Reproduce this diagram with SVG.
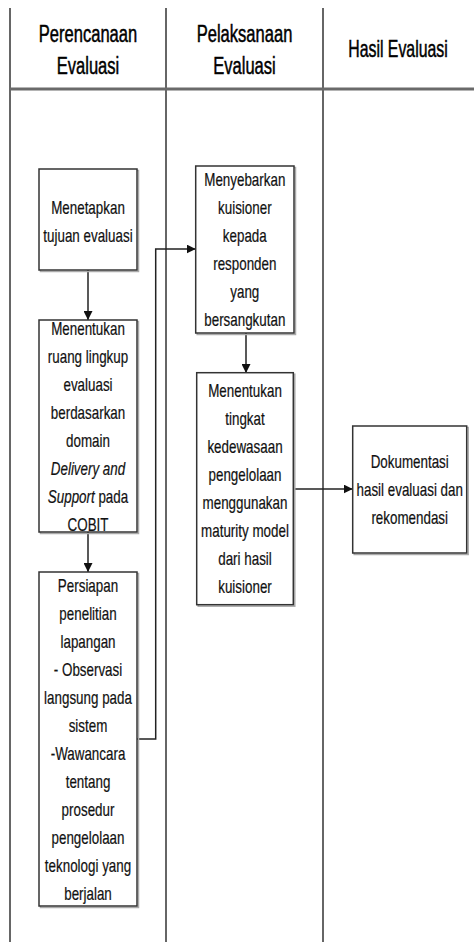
<svg xmlns="http://www.w3.org/2000/svg" width="474" height="942" viewBox="0 0 474 942">
<style>
.lane{stroke:#333;stroke-width:1.5;fill:none}
.sep{stroke:#6a6a6a;stroke-width:3;fill:none}
.box{fill:#fff;stroke:#333;stroke-width:1.5}
.shadow{fill:none;stroke:#aaa;stroke-width:1.5}
.hdr{font-family:"Liberation Sans",Arial,sans-serif;font-size:24px;fill:#000;stroke:#000;stroke-width:0.5;text-anchor:middle}
.t{font-family:"Liberation Sans",Arial,sans-serif;font-size:17.5px;fill:#111;stroke:#111;stroke-width:0.2;text-anchor:middle}
.conn{stroke:#222;stroke-width:1.5;fill:none}
</style>
<defs>
<marker id="arr" markerUnits="userSpaceOnUse" markerWidth="9" markerHeight="9" viewBox="0 0 10 10" refX="10" refY="5" orient="auto">
<path d="M0,0 L10,5 L0,10 z" fill="#111"/>
</marker>
</defs>
<rect width="474" height="942" fill="#fff"/>
<g id="lanes">
<line class="lane" x1="10" y1="8" x2="10" y2="942"/>
<line class="lane" x1="166" y1="8" x2="166" y2="942"/>
<line class="lane" x1="323" y1="8" x2="323" y2="942"/>
<line class="sep" x1="10" y1="89" x2="474" y2="89"/>
</g>
<g id="header-perencanaan" transform="translate(88,0) scale(0.69,1)">
<text class="hdr" x="0" y="41.7">Perencanaan</text>
<text class="hdr" x="0" y="74">Evaluasi</text>
</g>
<g id="header-pelaksanaan" transform="translate(244.5,0) scale(0.69,1)">
<text class="hdr" x="0" y="41.7">Pelaksanaan</text>
<text class="hdr" x="0" y="74">Evaluasi</text>
</g>
<g id="header-hasil" transform="translate(398,0) scale(0.66,1)">
<text class="hdr" x="0" y="56.7">Hasil Evaluasi</text>
</g>
<g id="connectors">
<line class="conn" x1="88" y1="270" x2="88" y2="320" marker-end="url(#arr)"/>
<line class="conn" x1="88" y1="532" x2="88" y2="572" marker-end="url(#arr)"/>
<polyline class="conn" points="137,739 155.7,739 155.7,249 195.7,249" marker-end="url(#arr)"/>
<line class="conn" x1="246" y1="333" x2="246" y2="373" marker-end="url(#arr)"/>
<line class="conn" x1="293.3" y1="489" x2="352.7" y2="489" marker-end="url(#arr)"/>
</g>
<g id="n1">
<rect class="shadow" x="40.5" y="170.5" width="98" height="101"/>
<rect class="box" x="39" y="169" width="98" height="101"/>
<g transform="translate(88,0) scale(0.765,1)">
<text class="t" x="0" y="214">Menetapkan</text>
<text class="t" x="0" y="242">tujuan evaluasi</text>
</g>
</g>
<g id="n2">
<rect class="shadow" x="40.5" y="321.5" width="98" height="212"/>
<rect class="box" x="39" y="320" width="98" height="212"/>
<g transform="translate(88,0) scale(0.765,1)">
<text class="t" x="0" y="335">Menentukan</text>
<text class="t" x="0" y="363">ruang lingkup</text>
<text class="t" x="0" y="391">evaluasi</text>
<text class="t" x="0" y="419">berdasarkan</text>
<text class="t" x="0" y="447">domain</text>
<text class="t" x="0" y="475" font-style="italic">Delivery and</text>
<text class="t" x="0" y="503"><tspan font-style="italic">Support</tspan> pada</text>
<text class="t" x="0" y="531">COBIT</text>
</g>
</g>
<g id="n3">
<rect class="shadow" x="40.5" y="573.5" width="98" height="334"/>
<rect class="box" x="39" y="572" width="98" height="334"/>
<g transform="translate(88,0) scale(0.765,1)">
<text class="t" x="0" y="592">Persiapan</text>
<text class="t" x="0" y="620">penelitian</text>
<text class="t" x="0" y="648">lapangan</text>
<text class="t" x="0" y="676">- Observasi</text>
<text class="t" x="0" y="704">langsung pada</text>
<text class="t" x="0" y="732">sistem</text>
<text class="t" x="0" y="760">-Wawancara</text>
<text class="t" x="0" y="788">tentang</text>
<text class="t" x="0" y="816">prosedur</text>
<text class="t" x="0" y="844">pengelolaan</text>
<text class="t" x="0" y="872">teknologi yang</text>
<text class="t" x="0" y="900">berjalan</text>
</g>
</g>
<g id="n4">
<rect class="shadow" x="197.2" y="167.5" width="98.3" height="167"/>
<rect class="box" x="195.7" y="166" width="98.3" height="167"/>
<g transform="translate(244.8,0) scale(0.765,1)">
<text class="t" x="0" y="186">Menyebarkan</text>
<text class="t" x="0" y="214">kuisioner</text>
<text class="t" x="0" y="242">kepada</text>
<text class="t" x="0" y="270">responden</text>
<text class="t" x="0" y="298">yang</text>
<text class="t" x="0" y="326">bersangkutan</text>
</g>
</g>
<g id="n5">
<rect class="shadow" x="198.2" y="374.2" width="96.6" height="232"/>
<rect class="box" x="196.7" y="372.7" width="96.6" height="232"/>
<g transform="translate(245,0) scale(0.765,1)">
<text class="t" x="0" y="396.7">Menentukan</text>
<text class="t" x="0" y="424.8">tingkat</text>
<text class="t" x="0" y="452.9">kedewasaan</text>
<text class="t" x="0" y="481">pengelolaan</text>
<text class="t" x="0" y="509.1">menggunakan</text>
<text class="t" x="0" y="537.2">maturity model</text>
<text class="t" x="0" y="565.3">dari hasil</text>
<text class="t" x="0" y="593.4">kuisioner</text>
</g>
</g>
<g id="n6">
<rect class="shadow" x="354.2" y="427.5" width="114" height="127"/>
<rect class="box" x="352.7" y="426" width="114" height="127"/>
<g transform="translate(409.7,0) scale(0.765,1)">
<text class="t" x="0" y="468.3">Dokumentasi</text>
<text class="t" x="0" y="496.2">hasil evaluasi dan</text>
<text class="t" x="0" y="524">rekomendasi</text>
</g>
</g>
</svg>
